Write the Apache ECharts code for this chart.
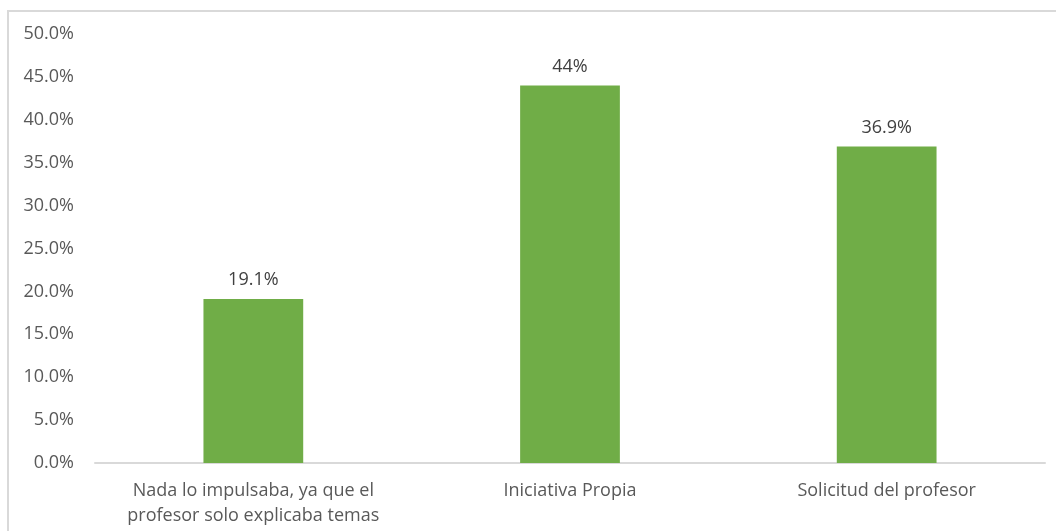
<!DOCTYPE html>
<html>
<head>
<meta charset="utf-8">
<script src="https://cdn.jsdelivr.net/npm/echarts@6/dist/echarts.min.js"></script>
<style>
  html, body { margin: 0; padding: 0; background: #fff; }
  #chart { width: 1056px; height: 531px; }
</style>
</head>
<body>
<div id="chart"></div>
<script>
// Data
const categories = ['Nada lo impulsaba, ya que el\nprofesor solo explicaba temas', 'Iniciativa Propia', 'Solicitud del profesor'];
const values = [19.1, 44, 36.9];
const valueLabels = ['19.1%', '44%', '36.9%'];

const chart = echarts.init(document.getElementById('chart'), null, { renderer: 'canvas' });

const font = '"Open Sans", "Noto Sans", sans-serif';

const option = {
    animation: false,
    backgroundColor: '#fff',
    graphic: [{
        type: 'rect',
        shape: { x: 8, y: 11, width: 1100, height: 600 },
        style: { fill: 'none', stroke: '#d9d9d9', lineWidth: 2 },
        silent: true
    }],
    grid: {
        left: 95,
        right: 11,
        top: 34,
        bottom: 68
    },
    xAxis: {
        type: 'category',
        data: categories,
        axisLine: { lineStyle: { color: '#d9d9d9', width: 2 } },
        axisTick: { show: false },
        axisLabel: {
            interval: 0,
            hideOverlap: false,
            color: '#595959',
            fontFamily: font,
            fontSize: 18,
            lineHeight: 25,
            margin: 15
        }
    },
    yAxis: {
        type: 'value',
        min: 0,
        max: 50,
        interval: 5,
        splitLine: { show: false },
        axisLine: { show: false },
        axisTick: { show: false },
        axisLabel: {
            color: '#595959',
            fontFamily: font,
            fontSize: 18,
            margin: 21,
            formatter: function (v) { return v.toFixed(1) + '%'; }
        }
    },
    series: [{
        type: 'bar',
        data: values,
        barWidth: '31.5%',
        itemStyle: { color: '#70ad47' },
        label: {
            show: true,
            position: 'top',
            distance: 10,
            color: '#404040',
            fontFamily: font,
            fontSize: 18,
            formatter: function (p) { return valueLabels[p.dataIndex]; }
        }
    }]
};

chart.setOption(option);
</script>
</body>
</html>
